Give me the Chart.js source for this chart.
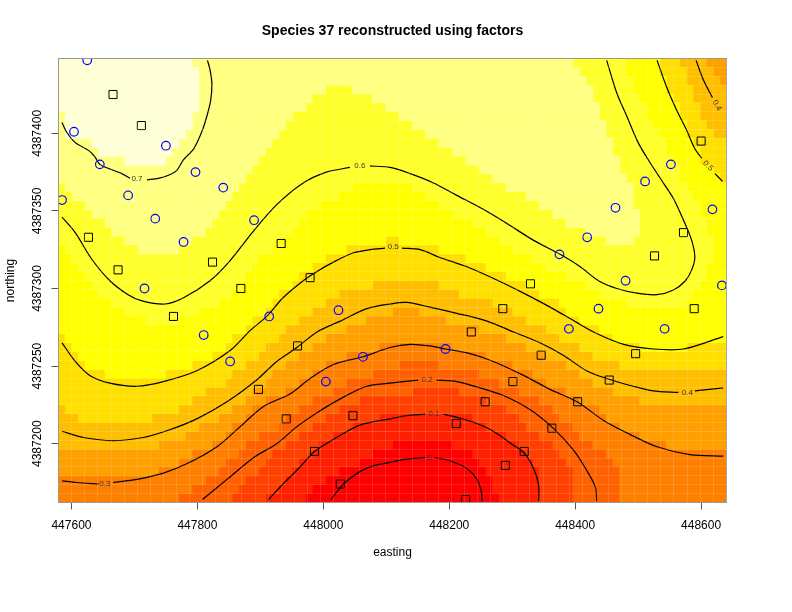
<!DOCTYPE html>
<html>
<head>
<meta charset="utf-8">
<title>Species 37 reconstructed using factors</title>
<style>body{margin:0;background:#fff}</style>
<script src="https://cdn.jsdelivr.net/npm/chart.js@4"></script>
</head>
<body>
<canvas id="map" width="792" height="612"></canvas>
<script>
const eastRange = [447579.4, 448640.3];
const northRange = [4387162.1, 4387448.2];
const eastTicks = 200;
const northTicks = 50;

// heat.colors(12), letter A is the highest value
const bandColors = {
    A: '#FFFFD5', B: '#FFFF80', C: '#FFFF2A', D: '#FFFF00', E: '#FFDF00', F: '#FFBF00',
    G: '#FF9F00', H: '#FF8000', I: '#FF6000', J: '#FF4000', K: '#FF2000', L: '#FF0000'
};

// one string per row from the top, letter + column where that band stops (100 columns)
const gridRows = [
    'A20 B77 C85 D90 E93 F97 G100',
    'A21 B78 C85 D90 E94 F98 G100',
    'A21 B79 C86 D91 E94 F99 G100',
    'A21 B40 C44 B80 C86 D91 E95 F100',
    'A21 B38 C47 B80 C87 D92 E95 F100',
    'A21 B37 C49 B81 C88 D93 E96 F100',
    'B1 A20 B35 C51 B81 C88 D93 E96 F100',
    'B1 A20 B34 C53 B82 C89 D94 E97 F100',
    'B1 A19 B33 C55 B82 C90 D94 E98 F100',
    'B5 A18 B32 C57 B83 C91 D95 E100',
    'B6 A17 B31 C59 B83 C91 D96 E100',
    'B10 A16 B30 C61 B84 C92 D96 E100',
    'B29 C63 B84 C93 D98 E100',
    'B28 C65 B85 C93 D99 E100',
    'C1 B27 C44 D53 C67 B86 C94 D100',
    'C2 B26 C42 D55 C70 B86 C95 D100',
    'C4 B25 C39 D57 C72 B86 C96 D100',
    'C5 B24 C37 D59 C74 B87 C96 D100',
    'C7 B23 C36 D62 C76 B87 C97 D100',
    'C8 B22 C35 D64 C79 B87 C97 D100',
    'C10 B20 C33 D49 E51 D66 C82 B86 C98 D100',
    'D1 C12 B18 C32 D43 E57 D68 C98 D100',
    'D2 C30 D40 E61 D71 C98 D100',
    'D3 C29 D38 E64 D73 C97 D100',
    'D4 C28 D36 E67 D76 C97 D100',
    'D5 C27 D35 E47 F57 E70 D79 C96 D100',
    'D6 C26 D33 E42 F60 E72 D81 C95 D100',
    'D8 C24 D32 E40 F65 E75 D85 C94 D100',
    'D10 C21 D31 E38 F50 G54 F68 E76 D100',
    'D13 C18 D29 E36 F46 G58 F70 E78 D100',
    'D28 E34 F43 G63 F73 E81 D100',
    'E1 D26 E33 F40 G67 F75 E83 D100',
    'E2 D25 E31 F38 G48 H59 G70 F78 E87 D94 E100',
    'E3 D23 E30 F36 G43 H64 G73 F80 E100',
    'E4 D20 E28 F34 G40 H51 I57 H68 G76 F84 E100',
    'E7 D16 E26 F32 G38 H47 I63 H71 G78 F100',
    'E25 F31 G36 H43 I66 H73 G80 F100',
    'E22 F29 G34 H41 I53 J60 I69 H76 G83 F100',
    'E20 F28 G31 H38 I45 J64 I72 H78 G87 F100',
    'F1 E18 F26 G29 H36 I42 J67 I74 H81 G100',
    'F3 E14 F24 G28 H34 I40 J48 K62 J69 I75 H82 G100',
    'F21 G26 H33 I38 J44 K64 J70 I77 H84 G100',
    'F19 G25 H30 I36 J41 K67 J72 I78 H87 G100',
    'F15 G23 H28 I34 J39 K50 L59 K69 J74 I80 H91 G100',
    'G20 H27 I32 J38 K47 L62 K70 J75 I82 H100',
    'G18 H25 I31 J36 K45 L63 K71 J76 I83 H100',
    'G15 H24 I30 J35 K42 L64 K72 J77 I84 H100',
    'H22 I28 J34 K40 L65 K72 J77 I84 H100',
    'H20 I27 J33 K38 L65 K72 J77 I84 H100',
    'H18 I26 J31 K37 L66 K72 J77 I84 H100'
];

// contour lines, null where the line stops for its label
const contour07 = [[447585,4387407],[447592,4387401],[447606,4387394],[447627,4387389],[447637,4387385],[447645,4387380],[447661,4387377],[447680,4387374],[447693,4387371],null,
    [447720,4387370],[447738,4387371],[447754,4387373],[447767,4387376],[447778,4387383],[447794,4387390],[447807,4387401],[447815,4387411],[447821,4387421],[447823,4387432],[447820,4387441],[447816,4387447]];
const contour06 = [[447585,4387346],[447606,4387336],[447632,4387319],[447661,4387305],[447690,4387296],[447712,4387292],[447749,4387290],[447778,4387294],[447820,4387305],[447852,4387318],[447889,4387337],[447926,4387354],[447968,4387368],[448005,4387375],[448042,4387378],null,
    [448074,4387379],[448106,4387378],[448138,4387374],[448175,4387368],[448212,4387360],[448254,4387351],[448291,4387342],[448334,4387331],[448376,4387322],[448408,4387314],[448437,4387305],[448466,4387300],[448498,4387297],[448530,4387296],[448556,4387299],[448575,4387305],[448585,4387312],[448590,4387320],[448585,4387331],[448572,4387344],[448556,4387358],[448540,4387368],[448519,4387381],[448500,4387394],[448482,4387411],[448466,4387426],[448450,4387447]];
const contour05 = [[447585,4387265],[447606,4387253],[447629,4387244],[447661,4387239],[447704,4387237],[447746,4387240],[447799,4387247],[447852,4387260],[447884,4387273],[447910,4387282],[447936,4387294],[447968,4387305],[447990,4387311],[448016,4387317],[448048,4387323],[448074,4387325],[448098,4387326],null,
    [448125,4387326],[448154,4387325],[448185,4387320],[448228,4387314],[448278,4387305],[448318,4387297],[448360,4387288],[448403,4387278],[448434,4387271],[448477,4387264],[448524,4387261],[448572,4387261],[448635,4387269]];
const contour05b = [[448530,4387447],[448545,4387430],[448561,4387415],[448577,4387402],[448590,4387390],[448601,4387384],null,[448622,4387374],[448634,4387369]];
const contour04 = [[447585,4387208],[447619,4387204],[447666,4387202],[447714,4387204],[447756,4387209],[447799,4387216],[447847,4387227],[447894,4387241],[447926,4387253],[447958,4387262],[447990,4387272],[448027,4387279],[448069,4387287],[448106,4387290],[448132,4387291],[448169,4387288],[448212,4387284],[448260,4387279],[448302,4387272],[448344,4387265],[448381,4387257],[448418,4387247],[448450,4387242],[448492,4387237],[448524,4387234],[448564,4387233],null,[448590,4387234],[448635,4387236]];
const contour04b = [[448592,4387447],[448604,4387434],[448618,4387423]];
const contour03 = [[447585,4387176],[447608,4387175],[447643,4387174],null,[447666,4387175],[447704,4387177],[447746,4387181],[447788,4387188],[447831,4387198],[447868,4387211],[447905,4387224],[447947,4387232],[447979,4387242],[448016,4387251],[448063,4387256],[448106,4387262],[448138,4387264],[448169,4387263],[448194,4387261],[448233,4387258],[448270,4387253],[448318,4387244],[448360,4387235],[448403,4387227],[448445,4387215],[448487,4387206],[448530,4387198],[448582,4387193],[448635,4387192]];
const contour02 = [[447808,4387164],[447847,4387177],[447889,4387191],[447926,4387200],[447958,4387211],[447990,4387220],[448032,4387230],[448069,4387237],[448106,4387239],[448127,4387240],[448151,4387241],null,[448180,4387241],[448212,4387240],[448249,4387236],[448286,4387231],[448328,4387222],[448365,4387210],[448397,4387196],[448418,4387183],[448432,4387172],[448434,4387163]];
const contour01 = [[447913,4387164],[447936,4387174],[447963,4387185],[447986,4387195],[448021,4387204],[448058,4387212],[448106,4387216],[448132,4387218],[448162,4387219],null,[448191,4387219],[448212,4387217],[448244,4387213],[448270,4387208],[448302,4387199],[448319,4387194],[448334,4387184],[448342,4387173],[448342,4387163]];
const contour00 = [[448012,4387164],[448032,4387174],[448058,4387182],[448082,4387186],[448106,4387188],[448132,4387190],[448162,4387191],null,[448177,4387191],[448201,4387189],[448228,4387184],[448244,4387177],[448251,4387169],[448252,4387163]];

const contourLabels = [
    ['0.7', 447704, 4387371, 0], ['0.6', 448058, 4387379, 0], ['0.5', 448111, 4387327, 0],
    ['0.5', 448611, 4387379, 45], ['0.4', 448625, 4387418, 60], ['0.4', 448578, 4387233, 0],
    ['0.3', 447653, 4387174, 0], ['0.2', 448165, 4387241, 0], ['0.1', 448176, 4387219, 0], ['0', 448169, 4387191, 0]
];

const circleSites = [[447625,4387447],[447604,4387401],[447645,4387380],[447750,4387392],[447797,4387375],[447841,4387365],[447690,4387360],[447585,4387357],[447733,4387345],[447890,4387344],[447778,4387330],[448552,4387380],[448511,4387369],[448464,4387352],[448618,4387351],[448419,4387333],[448375,4387322],[447716,4387300],[447810,4387270],[447852,4387253],[447914,4387282],[448024,4387286],[448063,4387256],[448004,4387240],[448480,4387305],[448633,4387302],[448437,4387287],[448390,4387274],[448542,4387274],[448194,4387261]];
const squareSites = [[447666,4387425],[447711,4387405],[447627,4387333],[447674,4387312],[447824,4387317],[447933,4387329],[447979,4387307],[448600,4387395],[448572,4387336],[448526,4387321],[448329,4387303],[447869,4387300],[447762,4387282],[447959,4387263],[447897,4387235],[447941,4387216],[448047,4387218],[447986,4387195],[448027,4387174],[448589,4387287],[448285,4387287],[448235,4387272],[448496,4387258],[448346,4387257],[448454,4387241],[448301,4387240],[448257,4387227],[448404,4387227],[448363,4387210],[448211,4387213],[448319,4387195],[448289,4387186],[448226,4387164]];

const fontName = '"Liberation Sans", Arial, sans-serif';
const xy = p => p ? { x: p[0], y: p[1] } : { x: null, y: null };

// turn the row strings into floating bars, one dataset per band
const colWidth = (eastRange[1] - eastRange[0]) / 100;
const rowHeight = (northRange[1] - northRange[0]) / gridRows.length;
const bandBars = {};
Object.keys(bandColors).forEach(k => bandBars[k] = []);
gridRows.forEach((row, r) => {
    let start = 0;
    row.split(' ').forEach(run => {
        const end = Number(run.slice(1));
        bandBars[run[0]].push({
            y: northRange[1] - (r + 0.5) * rowHeight,
            x: [eastRange[0] + start * colWidth, eastRange[0] + end * colWidth]
        });
        start = end;
    });
});

const barSets = Object.keys(bandColors).map(k => ({
    type: 'bar',
    indexAxis: 'y',
    data: bandBars[k],
    backgroundColor: bandColors[k],
    barThickness: 444 / gridRows.length,
    grouped: false,
    order: 3
}));

const lineSets = [contour07, contour06, contour05, contour05b, contour04, contour04b, contour03, contour02, contour01, contour00].map(c => ({
    type: 'line',
    data: c.map(xy),
    borderColor: '#000',
    borderWidth: 1.2,
    pointRadius: 0,
    tension: 0.3,
    spanGaps: false,
    order: 2
}));

const siteSets = [
    { type: 'scatter', data: circleSites.map(xy), pointStyle: 'circle', pointRadius: 4.3, borderColor: '#0000ff', backgroundColor: 'transparent', pointBorderWidth: 1.2, order: 1 },
    { type: 'scatter', data: squareSites.map(xy), pointStyle: 'rect', pointRadius: 5.7, borderColor: '#000', backgroundColor: 'transparent', pointBorderWidth: 1, order: 1 }
];

const boxAndLabels = {
    id: 'boxAndLabels',
    afterDatasetsDraw(chart) {
        const { ctx, chartArea: a, scales } = chart;
        ctx.save();
        ctx.font = '8px ' + fontName;
        ctx.fillStyle = '#333';
        ctx.textAlign = 'center';
        ctx.textBaseline = 'middle';
        contourLabels.forEach(l => {
            ctx.save();
            ctx.translate(scales.x.getPixelForValue(l[1]), scales.y.getPixelForValue(l[2]));
            ctx.rotate(l[3] * Math.PI / 180);
            ctx.fillText(l[0], 0, 0);
            ctx.restore();
        });
        ctx.strokeStyle = '#999';
        ctx.lineWidth = 1;
        ctx.strokeRect(a.left, a.top, a.right - a.left, a.bottom - a.top);
        ctx.restore();
    }
};

// pale lines the source image shows between every second cell
const seamAxis = (axis, position, range, step) => ({
    type: 'linear',
    axis,
    position,
    min: range[0],
    max: range[1],
    afterBuildTicks: s => {
        const list = [];
        for (let v = range[0] + step; v < range[1]; v += step) list.push({ value: v });
        s.ticks = list;
    },
    afterFit: s => { if (axis === 'x') s.height = 0; else s.width = 0; },
    grid: { z: 1, color: 'rgba(255,255,255,0.13)', drawTicks: false, tickLength: 0 },
    border: { display: false },
    ticks: { display: false, autoSkip: false }
});

new Chart(document.getElementById('map'), {
    type: 'bar',
    data: { datasets: [...siteSets, ...lineSets, ...barSets] },
    plugins: [boxAndLabels],
    options: {
        responsive: false,
        animation: false,
        devicePixelRatio: 1,
        layout: { padding: { left: 0, right: 65.5, top: 0, bottom: 0 } },
        plugins: {
            legend: { display: false },
            tooltip: { enabled: false },
            title: {
                display: true,
                text: 'Species 37 reconstructed using factors',
                color: '#000',
                fullSize: false,
                font: { family: fontName, size: 14, weight: 'bold' },
                padding: { top: 23, bottom: 18.7 }
            }
        },
        scales: {
            x: {
                type: 'linear',
                offset: false,
                min: eastRange[0],
                max: eastRange[1],
                afterFit: s => { s.height = 109.5; },
                grid: { offset: false, drawOnChartArea: false, tickLength: 7, tickColor: '#555' },
                border: { display: false },
                ticks: {
                    stepSize: eastTicks,
                    includeBounds: false,
                    maxRotation: 0,
                    autoSkip: false,
                    padding: 9,
                    color: '#000',
                    font: { family: fontName, size: 12 },
                    callback: v => String(v)
                },
                title: {
                    display: true,
                    text: 'easting',
                    color: '#000',
                    font: { family: fontName, size: 12 },
                    padding: { top: 0, bottom: 52 }
                }
            },
            y: {
                type: 'linear',
                offset: false,
                min: northRange[0],
                max: northRange[1],
                afterFit: s => { s.width = 58.5; },
                grid: { offset: false, drawOnChartArea: false, tickLength: 7, tickColor: '#555' },
                border: { display: false },
                ticks: {
                    stepSize: northTicks,
                    includeBounds: false,
                    minRotation: 90,
                    maxRotation: 90,
                    crossAlign: 'center',
                    padding: -10,
                    autoSkip: false,
                    color: '#000',
                    font: { family: fontName, size: 12 },
                    callback: v => String(v)
                },
                title: {
                    display: true,
                    text: 'northing',
                    color: '#000',
                    font: { family: fontName, size: 12 },
                    padding: { top: 3, bottom: 0 }
                }
            },
            xSeam: seamAxis('x', 'top', eastRange, 2 * colWidth),
            ySeam: seamAxis('y', 'right', northRange, rowHeight)
        }
    }
});
</script>
</body>
</html>
